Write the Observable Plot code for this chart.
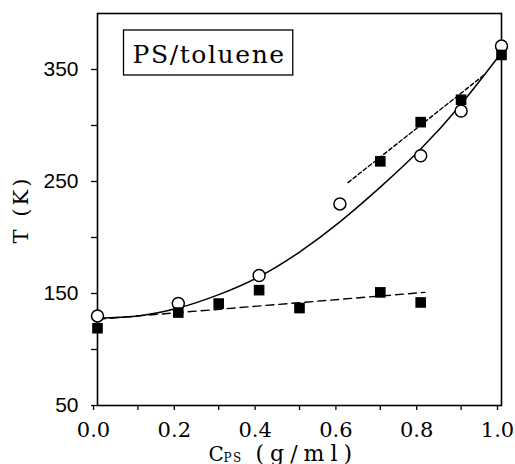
<!DOCTYPE html>
<html>
<head>
<meta charset="utf-8">
<script src="https://cdn.jsdelivr.net/npm/d3@7"></script>
<script src="https://cdn.jsdelivr.net/npm/@observablehq/plot@0.6"></script>
<style>
  html, body { margin: 0; padding: 0; background: #fff; }
  #chart svg { display: block; }
</style>
</head>
<body>
<div id="chart"></div>
<script>
// ---- data ----
const xTicks = [0, 0.2, 0.4, 0.6, 0.8, 1.0];
const xMinorTicks = [0.1, 0.3, 0.5, 0.7, 0.9];
const yTicks = [50, 150, 250, 350];
const yMinorTicks = [100, 200, 300];

// open circles
const circleC = [0.0, 0.2, 0.4, 0.6, 0.8, 0.9, 1.0];
const circleT = [130, 141, 166, 230, 273, 313, 371];

// filled squares
const squareC = [0.0, 0.2, 0.3, 0.4, 0.5, 0.7, 0.8, 0.7, 0.8, 0.9, 1.0];
const squareT = [119, 133, 141, 153, 137, 151, 142, 268, 303, 323, 363];

// solid fit curve
const fitC = [0.0, 0.1, 0.2, 0.3, 0.4, 0.5, 0.6, 0.7, 0.8, 0.9, 1.0];
const fitT = [128, 130, 137, 149, 165, 187, 214, 245, 279, 319, 365];

// lower dashed line
const lowC = [0.0, 0.81];
const lowT = [127, 151];

// upper dashed line
const highC = [0.62, 0.96];
const highT = [249, 346];

const labelText = "PS/toluene";
const yLabel = "T (K)";
const xLabelMain = "C";
const xLabelSub = "PS";
const xLabelUnit = "(g/ml)";

const zip = (xs, ys) => xs.map((x, i) => ({x, y: ys[i]}));
const circles = zip(circleC, circleT);
const squares = zip(squareC, squareT);
const fit = zip(fitC, fitT);
const low = zip(lowC, lowT);
const high = zip(highC, highT);

const serif = "DejaVu Serif";
const sans = "Liberation Sans";

const chart = Plot.plot({
  width: 515,
  height: 464,
  marginLeft: 97,
  marginRight: 14,
  marginTop: 13,
  marginBottom: 59,
  style: {background: "white", color: "black", fontFamily: serif},
  x: {domain: [0, 1]},
  y: {domain: [50, 400]},
  marks: [
    Plot.frame({stroke: "black", strokeWidth: 1.6}),
    Plot.axisY({ticks: yTicks, tickSize: 6, tickPadding: 13, tickFormat: d => String(d), fontSize: 21, fontFamily: sans, label: null, strokeWidth: 1.3}),
    Plot.axisY({ticks: yMinorTicks, tickSize: 6, tickFormat: () => "", label: null, strokeWidth: 1.3}),
    Plot.axisX({ticks: xTicks, tickSize: 5, tickPadding: 12, tickFormat: d3.format(".1f"), fontSize: 21, fontFamily: serif, dx: -4, label: null, strokeWidth: 1.3}),
    Plot.axisX({ticks: xMinorTicks, tickSize: 5, tickFormat: () => "", label: null, strokeWidth: 1.3}),
    Plot.line(fit, {x: "x", y: "y", curve: "natural", stroke: "black", strokeWidth: 1.5}),
    Plot.line(low, {x: "x", y: "y", stroke: "black", strokeWidth: 1.4, strokeDasharray: "8,5"}),
    Plot.line(high, {x: "x", y: "y", stroke: "black", strokeWidth: 1.4, strokeDasharray: "4,2.5"}),
    Plot.dot(circles, {x: "x", y: "y", r: 6, stroke: "black", fill: "white", strokeWidth: 1.5}),
    Plot.dot(squares, {x: "x", y: "y", symbol: "square", r: 6, fill: "black", stroke: "none"}),
    // label inside the box
    Plot.text([labelText], {frameAnchor: "top-left", dx: 35, dy: 49, textAnchor: "start", lineAnchor: "bottom", fontFamily: serif, fontSize: 25, fill: "black"}),
    // y axis label, rotated
    Plot.text([yLabel], {frameAnchor: "left", dx: -70, dy: 0, rotate: -90, textAnchor: "middle", lineAnchor: "bottom", fontFamily: serif, fontSize: 21, fill: "black"}),
    // x axis label with subscript
    Plot.text([xLabelMain], {frameAnchor: "bottom", dx: -91, dy: 55, textAnchor: "start", lineAnchor: "bottom", fontFamily: serif, fontSize: 20, fill: "black"}),
    Plot.text([xLabelSub], {frameAnchor: "bottom", dx: -76, dy: 56, textAnchor: "start", lineAnchor: "bottom", fontFamily: serif, fontSize: 12, fill: "black"}),
    Plot.text([xLabelUnit], {frameAnchor: "bottom", dx: -44, dy: 55, textAnchor: "start", lineAnchor: "bottom", fontFamily: serif, fontSize: 22, fill: "black"})
  ]
});
document.getElementById("chart").append(chart);

const svg = d3.select(chart);
// make sure the tick labels use the intended faces
svg.selectAll("g[aria-label='y-axis tick label']").attr("font-family", sans).attr("font-size", 21);
svg.selectAll("g[aria-label='x-axis tick label']").attr("font-family", serif).attr("font-size", 21);

// letter spacing of the wide typeset labels
const spacing = new Map([[labelText, 1.6], [yLabel, 3], [xLabelSub, 1.5], [xLabelUnit, 6]]);
svg.selectAll("text").each(function() {
  const s = spacing.get(this.textContent);
  if (s != null) d3.select(this).attr("letter-spacing", s);
});

// draw the box around the "PS/toluene" label, sized from the rendered text
svg.selectAll("text").filter(function() { return this.textContent === labelText; }).each(function() {
  const b = this.getBBox();
  const m = this.getCTM();
  const x0 = b.x * m.a + m.e;
  const base = 13 + 49; // baseline of the label (frame top + offset)
  svg.insert("rect", "g[aria-label='text']")
    .attr("x", x0 - 9).attr("y", base - 32)
    .attr("width", b.width + 16).attr("height", 45)
    .attr("fill", "white").attr("stroke", "black").attr("stroke-width", 1.3);
});
</script>
</body>
</html>
